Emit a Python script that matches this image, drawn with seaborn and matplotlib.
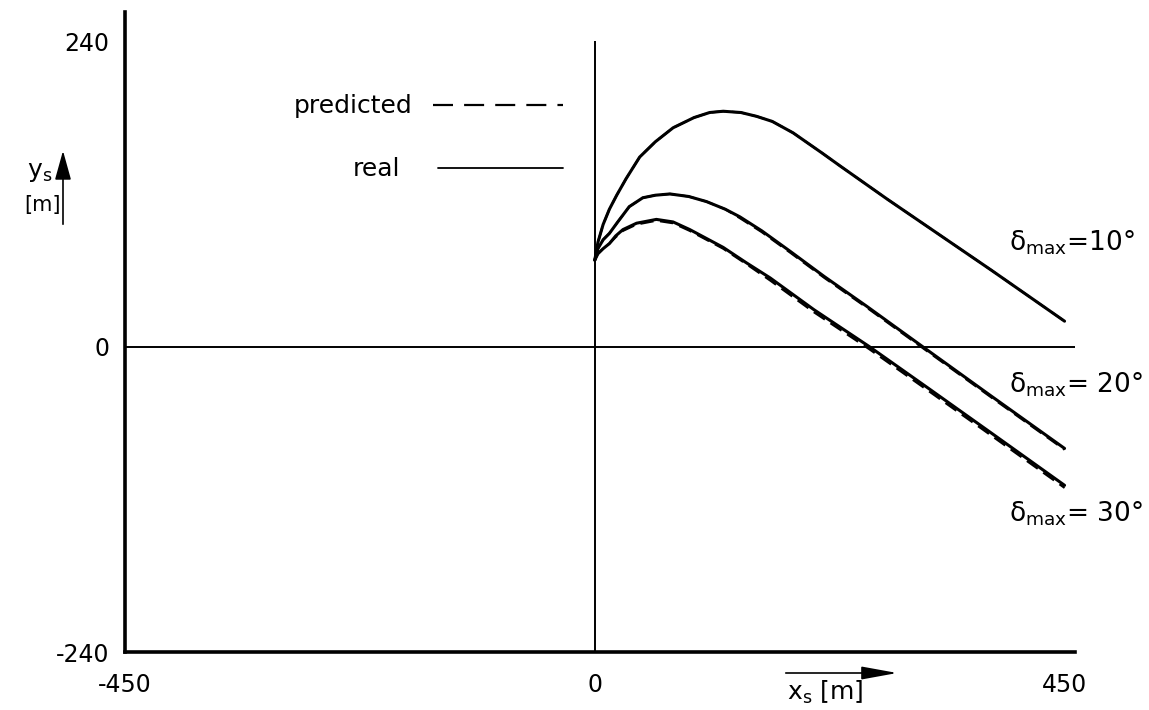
import numpy as np
import pandas as pd
import seaborn as sns
import matplotlib.pyplot as plt
from matplotlib.lines import Line2D
from matplotlib.patches import FancyArrowPatch

# values (x_s, y_s in m)
x10 = [0, 3, 8, 14, 21, 30, 43, 58, 75, 95, 110, 123, 140, 155, 170, 190, 218, 235, 280, 330, 380, 450]
y10 = [68, 82, 96, 108, 119, 132, 149, 161, 172, 180, 184, 185, 184, 181, 177, 168, 152, 142, 116, 88, 60, 20]
x20 = [0, 3, 8, 14, 22, 33, 46, 58, 72, 90, 107, 125, 139, 160, 187, 220, 260, 314, 380, 450]
y20 = [68, 77, 84, 89, 98, 110, 117, 119, 120, 118, 114, 108, 102, 91, 75, 55, 32, 0, -39, -80]
x30 = [0, 3, 8, 14, 20, 27, 40, 59, 75, 91, 107, 123, 145, 168, 210, 263, 320, 380, 450]
y30 = [68, 73, 77, 81, 87, 92, 97, 100, 98, 92, 85, 78, 66, 54, 29, 0, -33, -68, -109]

# predicted curves (almost on top of the real ones)
p10 = [68, 82, 96, 108, 119, 132, 149, 161, 172, 180, 184, 185, 184, 181, 177, 168, 152, 142, 116, 88, 60, 20]
p20 = [68, 77, 84, 89, 98, 110, 117, 119, 120, 118, 114, 108, 101, 90, 74, 54, 31, -1, -40, -81]
p30 = [68, 73, 77, 81, 86, 91, 96, 99, 97, 91, 84, 77, 65, 52, 27, -2, -35, -70, -111]

curve_labels = ["δ$_{\\rm max}$=10°", "δ$_{\\rm max}$= 20°", "δ$_{\\rm max}$= 30°"]
label_pos = [(397, 82), (397, -30), (397, -131)]

x_ticks = np.arange(-450, 451, 90)
y_ticks = np.arange(-240, 241, 48)
x_ticklabels = ["-450" if t == -450 else "0" if t == 0 else "450" if t == 450 else "" for t in x_ticks]
y_ticklabels = ["-240" if t == -240 else "0" if t == 0 else "240" if t == 240 else "" for t in y_ticks]

rows = []
for deg, xs, ys, ps in [(10, x10, y10, p10), (20, x20, y20, p20), (30, x30, y30, p30)]:
    for xv, yv, pv in zip(xs, ys, ps):
        rows.append({"delta": deg, "x": xv, "y": yv, "kind": "real"})
        rows.append({"delta": deg, "x": xv, "y": pv, "kind": "predicted"})
df = pd.DataFrame(rows)

sns.set_style("white")
plt.rcParams["font.family"] = ["DejaVu Sans"]
plt.rcParams["mathtext.fontset"] = "dejavusans"
plt.rcParams["text.color"] = "black"
plt.rcParams["xtick.color"] = "black"
plt.rcParams["ytick.color"] = "black"

fig = plt.figure(figsize=(11.49, 7.10), dpi=100)
ax = fig.add_axes([125 / 1149, 1 - 652 / 710, 950 / 1149, 640 / 710])

for deg in [10, 20, 30]:
    d = df[df["delta"] == deg]
    sns.lineplot(data=d[d["kind"] == "real"], x="x", y="y", color="black",
                 lw=2.2, sort=False, ax=ax, legend=False)
    sns.lineplot(data=d[d["kind"] == "predicted"], x="x", y="y", color="black",
                 lw=1.6, linestyle=(0, (6, 3)), sort=False, ax=ax, legend=False)

ax.axhline(0, color="black", lw=1.4)
ax.vlines(0, -240, 240, color="black", lw=1.4)

ax.set_xlim(-450, 460)
ax.set_ylim(-240, 263)
ax.set_xticks(x_ticks)
ax.set_xticklabels(x_ticklabels)
ax.set_yticks(y_ticks)
ax.set_yticklabels(y_ticklabels)
ax.tick_params(direction="inout", length=10, width=1.6, labelsize=17, color="black",
               labelcolor="black")
ax.tick_params(axis="x", pad=10)
ax.tick_params(axis="y", pad=6)
ax.set_xlabel("")
ax.set_ylabel("")
for s in ["top", "right"]:
    ax.spines[s].set_visible(False)
for s in ["left", "bottom"]:
    ax.spines[s].set_linewidth(2.6)
    ax.spines[s].set_color("black")

for lab, (lx, ly) in zip(curve_labels, label_pos):
    ax.text(lx, ly, lab, fontsize=19, ha="left", va="center")

# legend, text in front of the line
leg1 = ax.legend([Line2D([], [], color="black", lw=1.6, linestyle=(0, (9, 5)))], ["predicted"],
                 loc="upper right", bbox_to_anchor=(585 / 1149, 1 - 72 / 710),
                 bbox_transform=fig.transFigure, markerfirst=False, frameon=False,
                 fontsize=18, handlelength=5.2, handletextpad=0.8)
for t in leg1.get_texts():
    t.set_color("black")
ax.add_artist(leg1)
leg2 = ax.legend([Line2D([], [], color="black", lw=1.3)], ["real"],
                 loc="upper right", bbox_to_anchor=(585 / 1149, 1 - 135 / 710),
                 bbox_transform=fig.transFigure, markerfirst=False, frameon=False,
                 fontsize=18, handlelength=5.0, handletextpad=1.5)
for t in leg2.get_texts():
    t.set_color("black")

# axis labels with arrows
fig.text(40 / 1149, 1 - 172 / 710, "$\\mathrm{y_s}$", fontsize=18, ha="center", va="center")
fig.text(42 / 1149, 1 - 205 / 710, "[m]", fontsize=15, ha="center", va="center")
fig.add_artist(FancyArrowPatch(
    (63 / 1149, 1 - 227 / 710), (63 / 1149, 1 - 148 / 710), transform=fig.transFigure,
    arrowstyle="-|>,head_length=18,head_width=5", color="black", lw=1.2, mutation_scale=1))
fig.text(825 / 1149, 1 - 692 / 710, "$\\mathrm{x_s}$ [m]", fontsize=18, ha="center", va="center")
fig.add_artist(FancyArrowPatch(
    (783 / 1149, 1 - 673 / 710), (900 / 1149, 1 - 673 / 710), transform=fig.transFigure,
    arrowstyle="-|>,head_length=22,head_width=4", color="black", lw=1.2, mutation_scale=1))

fig.savefig("out.png", dpi=100)
